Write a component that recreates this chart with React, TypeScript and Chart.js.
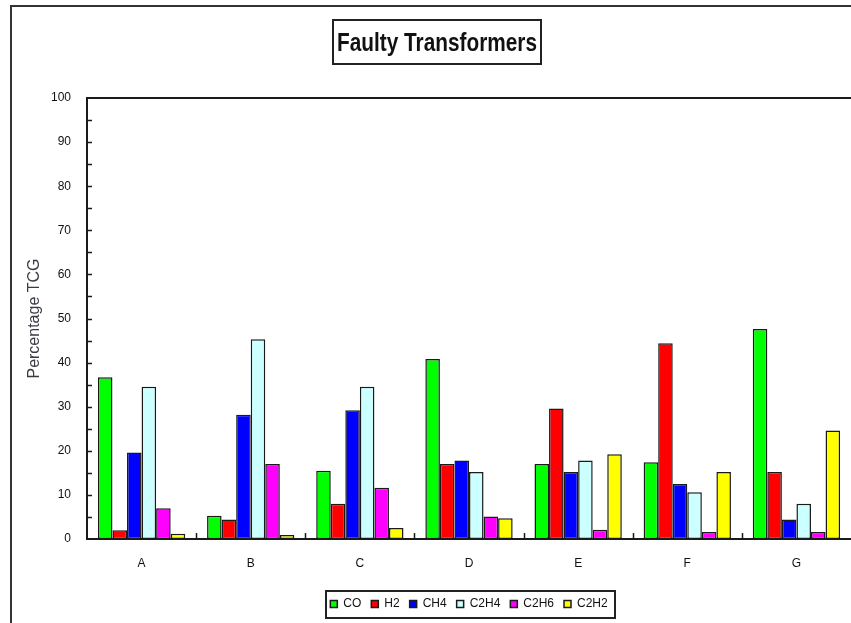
import React, { useEffect, useRef } from "react";
import { Chart, registerables } from "chart.js";

Chart.register(...registerables);

const categories = ["A", "B", "C", "D", "E", "F", "G"];
const seriesNames = ["CO", "H2", "CH4", "C2H4", "C2H6", "C2H2"];
const coValues = [36.7, 5.3, 15.5, 40.8, 17.0, 17.4, 47.6];
const h2Values = [2.0, 4.4, 8.0, 17.0, 29.6, 44.4, 15.2];
const ch4Values = [19.6, 28.2, 29.2, 17.8, 15.2, 12.5, 4.4];
const c2h4Values = [34.5, 45.3, 34.5, 15.2, 17.8, 10.6, 8.0];
const c2h6Values = [7.0, 17.0, 11.6, 5.1, 2.1, 1.6, 1.6];
const c2h2Values = [1.2, 0.9, 2.5, 4.7, 19.2, 15.2, 24.6];
const seriesColors = ["#00ff00", "#ff0000", "#0000ff", "#ccffff", "#ff00ff", "#ffff00"];
const yTickValues = [0, 10, 20, 30, 40, 50, 60, 70, 80, 90, 100];
const titleText = "Faulty Transformers";
const yAxisTitle = "Percentage TCG";

const ARIAL = "'Liberation Sans', Arial, sans-serif";

const decorPlugin = {
  id: "decor",
  beforeDraw(chart: any) {
    const ctx = chart.ctx;
    ctx.save();
    ctx.strokeStyle = "#333";
    ctx.lineWidth = 2;
    ctx.strokeRect(11, 6, 1000, 1000);
    ctx.restore();
  },
  afterDatasetsDraw(chart: any) {
    const ctx = chart.ctx;
    const area = chart.chartArea;
    const y = chart.scales.y;
    const x = chart.scales.x;
    ctx.save();
    ctx.strokeStyle = "#1a1a1a";
    ctx.lineWidth = 2;
    ctx.beginPath();
    ctx.moveTo(area.left, area.top);
    ctx.lineTo(area.right + 2, area.top);
    ctx.stroke();
    ctx.lineWidth = 1.5;
    for (let v = 5; v < 100; v += 5) {
      const py = Math.round(y.getPixelForValue(v)) + 0.5;
      ctx.beginPath();
      ctx.moveTo(area.left, py);
      ctx.lineTo(area.left + 5, py);
      ctx.stroke();
    }
    for (let i = 0; i < categories.length - 1; i++) {
      const px = Math.round((x.getPixelForValue(i) + x.getPixelForValue(i + 1)) / 2) + 0.5;
      ctx.beginPath();
      ctx.moveTo(px, area.bottom);
      ctx.lineTo(px, area.bottom - 6);
      ctx.stroke();
    }
    ctx.restore();
  },
  afterDraw(chart: any) {
    const ctx = chart.ctx;
    ctx.save();
    // narrow bold title in a box
    const cx = (23 + chart.width) / 2;
    const baseline = 51;
    const sx = 0.8;
    ctx.font = `bold 26px ${ARIAL}`;
    const w = ctx.measureText(titleText).width * sx;
    ctx.save();
    ctx.translate(cx, baseline);
    ctx.scale(sx, 1);
    ctx.fillStyle = "#111";
    ctx.textAlign = "center";
    ctx.textBaseline = "alphabetic";
    ctx.fillText(titleText, 0, 0);
    ctx.restore();
    ctx.strokeStyle = "#222";
    ctx.lineWidth = 2;
    ctx.strokeRect(Math.round(cx - w / 2 - 4), 20, Math.round(w + 8), 44);
    // legend box
    const lg = chart.legend;
    if (lg && lg.legendHitBoxes && lg.legendHitBoxes.length) {
      const hb = lg.legendHitBoxes;
      let l = Infinity, r = -Infinity, tp = Infinity, bt = -Infinity;
      hb.forEach((b: any) => {
        l = Math.min(l, b.left);
        r = Math.max(r, b.left + b.width);
        tp = Math.min(tp, b.top);
        bt = Math.max(bt, b.top + b.height);
      });
      const cy = (tp + bt) / 2;
      ctx.strokeStyle = "#222";
      ctx.lineWidth = 2;
      ctx.strokeRect(Math.round(l - 4), Math.round(cy - 13), Math.round(r - l + 12), 27);
    }
    ctx.restore();
  },
};

export default function App() {
  const ref = useRef<HTMLCanvasElement | null>(null);
  useEffect(() => {
    if (!ref.current) return;
    const allValues = [coValues, h2Values, ch4Values, c2h4Values, c2h6Values, c2h2Values];
    const chart = new Chart(ref.current, {
      type: "bar",
      data: {
        labels: categories,
        datasets: seriesNames.map((name, i) => ({
          label: name,
          data: allValues[i],
          backgroundColor: seriesColors[i],
          borderColor: "#1a1a1a",
          borderWidth: 1.5,
          borderSkipped: false,
          categoryPercentage: 0.8,
          barPercentage: 1.0,
        })),
      },
      plugins: [decorPlugin],
      options: {
        animation: false,
        responsive: false,
        devicePixelRatio: 1,
        layout: { padding: { left: 23, right: 0, top: 98, bottom: 3 } },
        font: { family: ARIAL },
        plugins: {
          title: { display: false, text: titleText },
          legend: {
            display: true,
            position: "bottom",
            fullSize: false,
            labels: {
              color: "#111",
              font: { family: ARIAL, size: 12 },
              boxWidth: 7,
              boxHeight: 7,
              padding: 10,
            },
          },
          tooltip: { enabled: false },
        },
        scales: {
          x: {
            grid: { display: false, drawTicks: false },
            border: { display: true, color: "#1a1a1a", width: 2 },
            ticks: { color: "#111", font: { family: ARIAL, size: 12 }, padding: 17 },
            afterFit: (s: any) => { s.height = 49; },
          },
          y: {
            min: 0,
            max: 100,
            grid: { display: false, drawTicks: false },
            border: { display: true, color: "#1a1a1a", width: 2 },
            ticks: {
              stepSize: 5,
              color: "#111",
              font: { family: ARIAL, size: 12 },
              padding: 16,
              callback: (v: any) => (yTickValues.includes(Number(v)) ? String(v) : ""),
            },
            title: {
              display: true,
              text: yAxisTitle,
              color: "#3a3a44",
              font: { family: ARIAL, size: 16 },
              padding: { top: 2.4, bottom: 0 },
            },
            afterFit: (s: any) => { s.width = 64; },
          },
        },
      },
    });
    return () => chart.destroy();
  }, []);
  return (
    <div style={{ position: "absolute", left: 0, top: 0, width: 851, height: 623, background: "#fff" }}>
      <canvas ref={ref} width={851} height={623} style={{ display: "block", width: 851, height: 623 }} />
    </div>
  );
}
